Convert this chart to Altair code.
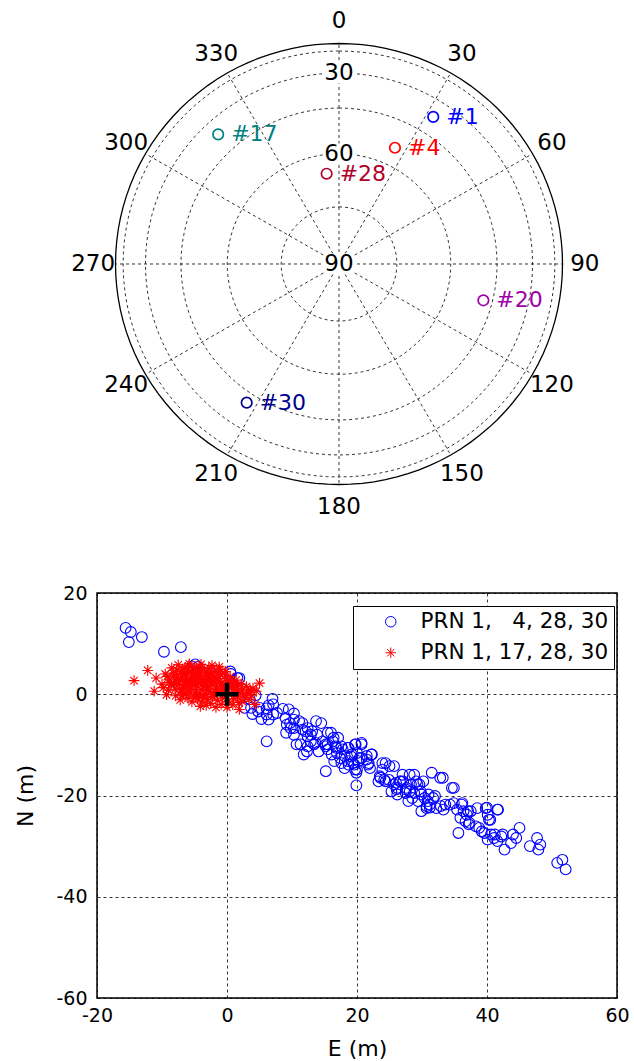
import altair as alt
import pandas as pd

# ---------------- Sky plot data ----------------
PRN = ["1", "4", "28", "17", "20", "30"]
SAT_AZ = [32.3, 25.4, 352.3, 317.4, 104.3, 213.3]
SAT_EL = [37.9, 54.3, 65.6, 37.0, 48.2, 41.2]
SAT_COLORS = ["#0000ff", "#ff0000", "#b0002a", "#008080", "#a000a8", "#000090"]

HORIZON_EL = [0]
RING_EL = [15, 30, 45, 60, 75]
SPOKE_AZ = [0, 30, 60, 90, 120, 150, 180, 210, 240, 270, 300, 330]
EL_LABELS = [30, 60, 90]

# ---------------- Position scatter data ----------------
BLUE_E = [-15.6, -14.8, -15.1, -13.1, -9.7, -7.1,
          -5.4, -4.5, -3.3, 0.6, 1.9, -4.9, -2.3, 0.5, 1.6,
          -6.0, -2.5, -1.0, -4.0, 2.5, 3.5, -7.5,
          2.7, 3.9, 4.8, 5.3, 5.0, 6.1, 6.4, 7.0, 7.1, 4.4,
          8.6, 9.0, 9.2, 9.7, 10.3, 11.1, 9.1, 10.3, 11.6, 12.4, 13.1, 12.4, 13.7, 10.7,
          11.8, 12.3, 6.1, 12.9, 13.4, 14.7, 15.5, 15.5, 16.4, 16.1, 15.2,
          16.8, 17.6, 18.1, 18.6, 19.2, 19.7, 20.7, 16.5, 17.6, 18.1, 18.6, 19.4, 19.7,
          20.2, 20.7, 21.5, 22.3, 21.8, 22.0, 19.9, 19.9, 24.4, 25.7, 23.9, 23.6, 24.4,
          24.9, 26.0, 26.2, 26.7, 28.1, 28.3, 29.1, 29.6, 27.5, 28.1, 28.8, 29.9, 30.4,
          30.9, 31.5, 32.8, 34.6, 26.2, 28.5, 29.4, 29.9, 30.7, 31.7, 32.2, 33.3, 31.2,
          34.3, 35.4, 36.2, 36.4, 36.9, 37.5, 35.9, 36.7, 37.2, 35.6, 38.5, 39.8, 41.6,
          40.1, 40.3, 38.8, 39.6, 40.6, 41.1, 41.6, 42.7, 42.4, 44.0, 44.5, 45.0, 43.7, 40.1,
          46.6, 47.7, 48.2, 47.9, 50.8, 51.6, 52.1,
          14.5, 13.85, 13.6, 14.1, 15.2, 16.0, 16.3, 16.7, 16.9, 17.4, 17.1, 17.8, 18.7,
          19.1, 19.8, 20.7, 20.0, 20.0, 19.6, 18.7, 20.4, 21.5, 22.2, 21.7, 23.9, 25.0,
          23.5, 24.2, 23.3, 25.7, 26.6, 27.0, 26.1, 25.3, 27.5, 27.9,
          27.1, 27.6, 28.8, 29.3, 30.2, 29.8, 31.0, 32.0, 30.7, 31.2, 32.9, 33.6, 33.2,
          34.9, 34.9, 36.1, 37.1, 37.3, 38.3, 39.2, 40.0, 40.5, 41.7, 41.2, 42.2,
          3.7, 7.1, 6.1, 6.4, 7.7, 9.5, 10.3, 9.8, 10.3, 11.6, 12.1, 12.9, 11.3, 12.4, 15.2, 15.5]
BLUE_N = [13.1, 12.3, 10.3, 11.3, 8.4, 9.3,
          5.5, 5.4, 4.2, 4.0, 3.2, 5.9, 4.1, 4.5, 3.2,
          3.5, 1.5, 2.5, 0.5, 1.0, -1.0, 2.0,
          -2.7, -3.9, -3.4, -4.9, -2.7, -2.8, -2.2, -0.9, -4.0, -0.2,
          -2.9, -4.7, -6.0, -5.7, -3.8, -5.3, -7.6, -6.7, -7.0, -6.7, -7.3, -8.3, -5.3, -9.9,
          -11.9, -11.3, -9.3, -9.3, -9.9, -9.3, -7.6, -9.9, -8.6, -11.9, -15.2,
          -10.6, -10.3, -12.2, -10.6, -11.9, -9.9, -9.9, -13.2, -13.6, -14.6, -13.2, -13.6, -14.9,
          -13.2, -12.6, -12.2, -11.9, -13.6, -14.6, -15.5, -18.0, -13.6, -14.2, -14.9, -16.5, -17.2,
          -16.9, -17.5, -18.5, -17.2, -15.9, -17.8, -17.2, -17.8, -18.8, -19.2, -19.5, -19.8, -20.5,
          -21.1, -15.5, -16.5, -18.5, -19.8, -20.5, -21.1, -23.1, -22.5, -20.5, -22.5, -22.8, -21.8,
          -21.8, -22.8, -21.5, -23.1, -23.8, -23.1, -24.4, -25.1, -25.7, -27.4, -22.5, -22.5, -22.8,
          -23.8, -24.8, -26.4, -27.4, -27.7, -28.4, -29.0, -30.7, -27.7, -27.7, -28.4, -26.4, -29.4, -28.7,
          -30.0, -28.4, -29.7, -30.7, -33.3, -32.7, -34.6,
          -5.7, -8.0, -9.6, -11.3, -10.3, -7.6, -9.3, -10.3, -11.6, -12.6, -8.6, -10.9, -10.6,
          -12.3, -9.9, -9.6, -11.6, -14.9, -13.9, -13.9, -12.6, -12.9, -11.9, -13.9, -13.6, -14.2,
          -16.2, -16.9, -17.2, -17.8, -17.2, -15.9, -18.8, -19.2, -19.5, -21.1,
          -17.2, -18.5, -15.9, -17.8, -17.2, -19.2, -19.8, -20.1, -22.1, -22.4, -22.1, -21.8, -16.5,
          -18.5, -21.5, -21.8, -23.1, -25.4, -26.1, -27.1, -22.4, -24.8, -22.8, -27.7, -28.1,
          -2.7, -2.0, -4.0, -5.0, -3.7, -3.0, -5.0, -6.7, -8.0, -5.7, -7.3, -8.0, -9.9, -10.3, -9.9, -10.9]

RED_E = [-14.3, -12.2, -10.9, -11.2, -9.3, -10.0, -9.5, -8.5, -8.0, -8.8,
         -7.5, -7.0, -7.2, -7.4, -7.0, -7.2, -6.5, -6.3, -6.5, -6.0, -6.4, -6.0,
         -5.8, -5.5, -5.6, -5.3, -5.5, -5.2, -5.4, -5.0, -4.8, -4.9, -4.6, -4.8, -4.5, -4.1,
         -4.2, -4.0, -4.1, -3.8, -4.0, -3.7, -3.9, -3.5, -3.3, -3.4, -3.1, -3.3, -3.0, -3.2,
         -2.8, -2.6, -2.7, -2.4, -2.6, -2.3, -2.5, -2.0, -1.9, -1.8, -1.6, -1.9, -1.5, -1.7,
         -1.2, -1.0, -1.1, -0.8, -1.0, -0.7, -0.9, -0.4, -0.2, -0.3, 0.0, -0.1, 0.2, 0.0,
         0.5, 0.6, 0.8, 0.7, 1.0, 0.9, 1.4, 1.5, 1.7, 1.6, 1.9, 2.2, 2.4, 2.5, 2.3, 3.0,
         3.2, 3.4, 4.0, 4.5, 5.0, 4.3, 3.8,
         -6.8, -6.2, -5.9, -5.1, -4.4, -4.3, -3.6, -3.0, -2.2, -2.9, -5.7, -4.9, -6.6,
         -7.8, -8.3, -8.6, -9.0, -7.6, -6.9, -0.2, -1.2,
         -9.8, -9.2, -8.9, -8.2, -7.9, -7.7, -7.3, -6.7, -6.1, -5.6,
         -5.0, -4.7, -4.3, -3.9, -3.4, -2.9, -2.4, -2.1, -1.4, -0.6,
         0.3, 1.2, 2.0, 2.8, 3.6, -8.1, -7.1, -6.3, -5.3, -4.6,
         -3.8, -3.1, -2.5, -1.7, -1.0, -0.4, 0.4, 1.1, 1.8, -6.8,
         -5.9, -4.9, -4.0, -3.2, -2.3, -1.3]
RED_N = [2.7, 4.7, 3.2, 0.6, -0.1, 2.0, 4.0, 5.2, 1.0, 3.0,
         5.8, 4.5, 3.2, 2.0, 0.5, -1.1, 5.2, 3.8, 2.5, 1.5, 0.2, -0.8,
         6.0, 4.6, 3.3, 2.2, 1.0, -0.2, -1.5, 5.3, 4.0, 2.8, 1.6, 0.4, -0.9, -2.4,
         5.5, 4.3, 3.1, 2.0, 0.9, -0.3, -1.5, 4.8, 3.6, 2.5, 1.3, 0.2, -1.0, -2.2,
         5.2, 4.0, 2.8, 1.8, 0.6, -0.5, -1.8, 4.5, 3.3, 2.2, 1.0, -0.1, -1.2, -2.6,
         4.9, 3.8, 2.6, 1.5, 0.4, -0.8, -2.0, 4.2, 3.0, 2.0, 0.9, -0.3, -1.5, -2.6,
         3.5, 2.4, 1.4, 0.2, -0.9, -2.1, 2.8, 1.7, 0.6, -0.5, -3.0, 2.0, 1.0, -0.2, -1.4, 1.5,
         0.3, -1.0, 1.2, 0.6, 2.2, -2.0, -0.3,
         3.9, 2.9, 2.0, 3.7, 2.4, 3.6, 1.5, 2.9, 3.6, 0.9, 0.4, -0.6, 1.2,
         2.6, 4.2, 1.8, 0.8, 3.8, -0.3, 4.5, 5.4,
         1.3, 3.5, 2.3, 3.6, -0.3, 4.8, 1.1, 0.0, 4.1, 2.8,
         1.9, 3.2, 0.1, 4.7, -0.6, 3.9, 2.3, 0.0, 3.1, 1.2,
         2.7, 1.0, 0.3, -0.7, 0.8, 2.1, 2.7, 1.8, 3.0, 4.4,
         2.6, 1.9, 3.1, 0.5, 2.0, 0.6, 1.7, 2.0, -1.6, 5.0,
         5.6, 4.8, 5.9, 4.3, 5.7, 4.2]

SERIES = ["PRN 1,\u00a0\u00a0\u00a04, 28, 30", "PRN 1, 17, 28, 30"]
SERIES_COLORS = ["#0000ff", "#ff0000"]
CROSS_E = [0.0]
CROSS_N = [0.0]

STAR = "M0,-1L0,1M-1,0L1,0M-0.7,-0.7L0.7,0.7M-0.7,0.7L0.7,-0.7"
PLUS = "M-1,0L1,0M0,-1L0,1"
LABEL_BOX = "M-1.5,-1L1.5,-1L1.5,1L-1.5,1Z"

FONT = "DejaVu Sans"

# ---------------- Sky plot ----------------
XS = alt.Scale(domain=[-1.0828, 1.2438], nice=False, zero=False)
YS = alt.Scale(domain=[-1.2562, 1.1927], nice=False, zero=False)

ring_df = pd.DataFrame([{"el": e, "t": t} for e in HORIZON_EL + RING_EL for t in range(0, 361, 3)])
ring_base = alt.Chart(ring_df).transform_calculate(
    px="cos(datum.el*PI/180)*sin(datum.t*PI/180)",
    py="cos(datum.el*PI/180)*cos(datum.t*PI/180)",
)
ring_enc = dict(
    x=alt.X("px:Q", scale=XS, axis=None),
    y=alt.Y("py:Q", scale=YS, axis=None),
    detail="el:N",
    order="t:Q",
)
inner_rings = ring_base.transform_filter("datum.el > 0").mark_line(
    color="black", strokeWidth=0.8, strokeDash=[3, 3]).encode(**ring_enc)
outer_ring = ring_base.transform_filter("datum.el == 0").mark_line(
    color="black", strokeWidth=1.3).encode(**ring_enc)

spokes = alt.Chart(pd.DataFrame({"az": SPOKE_AZ})).transform_calculate(
    x0="0", y0="0",
    x1="sin(datum.az*PI/180)", y1="cos(datum.az*PI/180)",
).mark_rule(color="black", strokeWidth=0.8, strokeDash=[3, 3]).encode(
    x=alt.X("x0:Q", scale=XS, axis=None),
    y=alt.Y("y0:Q", scale=YS, axis=None),
    x2="x1:Q", y2="y1:Q",
)

az_labels = alt.Chart(pd.DataFrame({"az": SPOKE_AZ})).transform_calculate(
    lx="1.1*sin(datum.az*PI/180)", ly="1.1*cos(datum.az*PI/180)",
    txt="toString(datum.az)",
).mark_text(fontSize=23, color="black", align="center", baseline="middle", font=FONT).encode(
    x=alt.X("lx:Q", scale=XS, axis=None),
    y=alt.Y("ly:Q", scale=YS, axis=None),
    text="txt:N",
)

el_base = alt.Chart(pd.DataFrame({"el": EL_LABELS})).transform_calculate(
    lx="0", ly="cos(datum.el*PI/180)", txt="toString(datum.el)",
)
el_enc = dict(x=alt.X("lx:Q", scale=XS, axis=None), y=alt.Y("ly:Q", scale=YS, axis=None))
el_bg = el_base.mark_point(shape=LABEL_BOX, size=420, filled=True, color="white", opacity=1,
                           strokeWidth=0).encode(**el_enc)
el_txt = el_base.mark_text(fontSize=23, color="black", align="center", baseline="middle",
                           font=FONT).encode(text="txt:N", **el_enc)

sat_df = pd.DataFrame({"prn": PRN, "az": SAT_AZ, "el": SAT_EL})
sat_base = alt.Chart(sat_df).transform_calculate(
    sx="cos(datum.el*PI/180)*sin(datum.az*PI/180)",
    sy="cos(datum.el*PI/180)*cos(datum.az*PI/180)",
    lbl="'#' + datum.prn",
)
sat_color = alt.Color("prn:N", scale=alt.Scale(domain=PRN, range=SAT_COLORS), legend=None)
sat_enc = dict(x=alt.X("sx:Q", scale=XS, axis=None), y=alt.Y("sy:Q", scale=YS, axis=None))
sat_pts = sat_base.mark_point(filled=False, size=110, strokeWidth=1.7, opacity=1).encode(
    color=sat_color, **sat_enc)
sat_txt = sat_base.mark_text(align="left", baseline="middle", dx=13, fontSize=22, font=FONT).encode(
    text="lbl:N", color=sat_color, **sat_enc)

sky = alt.layer(inner_rings, spokes, outer_ring, el_bg, el_txt, az_labels, sat_pts, sat_txt).properties(
    width=520, height=540, view=alt.ViewBackground(stroke="transparent"))

# ---------------- Scatter plot ----------------
scatter_df = pd.DataFrame({
    "E": BLUE_E + RED_E,
    "N": BLUE_N + RED_N,
    "series": [SERIES[0]] * len(BLUE_E) + [SERIES[1]] * len(RED_E),
})

axis_common = dict(
    grid=True, gridColor="black", gridDash=[3, 3], gridWidth=0.8, gridOpacity=1,
    ticks=False, domain=False, labelFontSize=19, labelColor="black", labelFont=FONT,
    labelFlush=False, titleFontSize=22, titleFontWeight="normal", titleColor="black",
    titleFont=FONT, labelExpr="toString(datum.value)",
)
x_axis = alt.Axis(values=[-20, 0, 20, 40, 60], labelPadding=8, titlePadding=13, **axis_common)
y_axis = alt.Axis(values=[-60, -40, -20, 0, 20], labelPadding=10, titlePadding=18, **axis_common)

legend = alt.Legend(
    orient="none", legendX=256, legendY=13, strokeColor="black", fillColor="white",
    padding=5, symbolOffset=22, labelOffset=19, labelFontSize=21.5, labelColor="black",
    labelFont=FONT, symbolSize=110, symbolStrokeWidth=1, rowPadding=8, labelLimit=400,
    cornerRadius=0,
)

pts = alt.Chart(scatter_df).mark_point(filled=False, size=115, strokeWidth=1.1, opacity=1).encode(
    x=alt.X("E:Q", scale=alt.Scale(domain=[-20, 60], nice=False), axis=x_axis, title="E (m)"),
    y=alt.Y("N:Q", scale=alt.Scale(domain=[-60, 20], nice=False), axis=y_axis, title="N (m)"),
    color=alt.Color("series:N", scale=alt.Scale(domain=SERIES, range=SERIES_COLORS),
                    title=None, legend=legend),
    shape=alt.Shape("series:N", scale=alt.Scale(domain=SERIES, range=["circle", STAR]),
                    title=None, legend=legend),
)

cross = alt.Chart(pd.DataFrame({"E": CROSS_E, "N": CROSS_N})).mark_point(
    shape=PLUS, size=529, strokeWidth=4.5, color="black", filled=False, strokeCap="butt", opacity=1
).encode(x="E:Q", y="N:Q")

scatter = alt.layer(pts, cross).properties(
    width=520, height=405, view=alt.ViewBackground(stroke="black", strokeWidth=1.5))

chart = alt.vconcat(sky, scatter, spacing=41).resolve_scale(
    color="independent", shape="independent"
).properties(
    padding={"left": 14, "top": 0, "right": 0, "bottom": 0}
).configure(font=FONT)

chart.save("out.html", embed_options={"renderer": "svg", "actions": False})
